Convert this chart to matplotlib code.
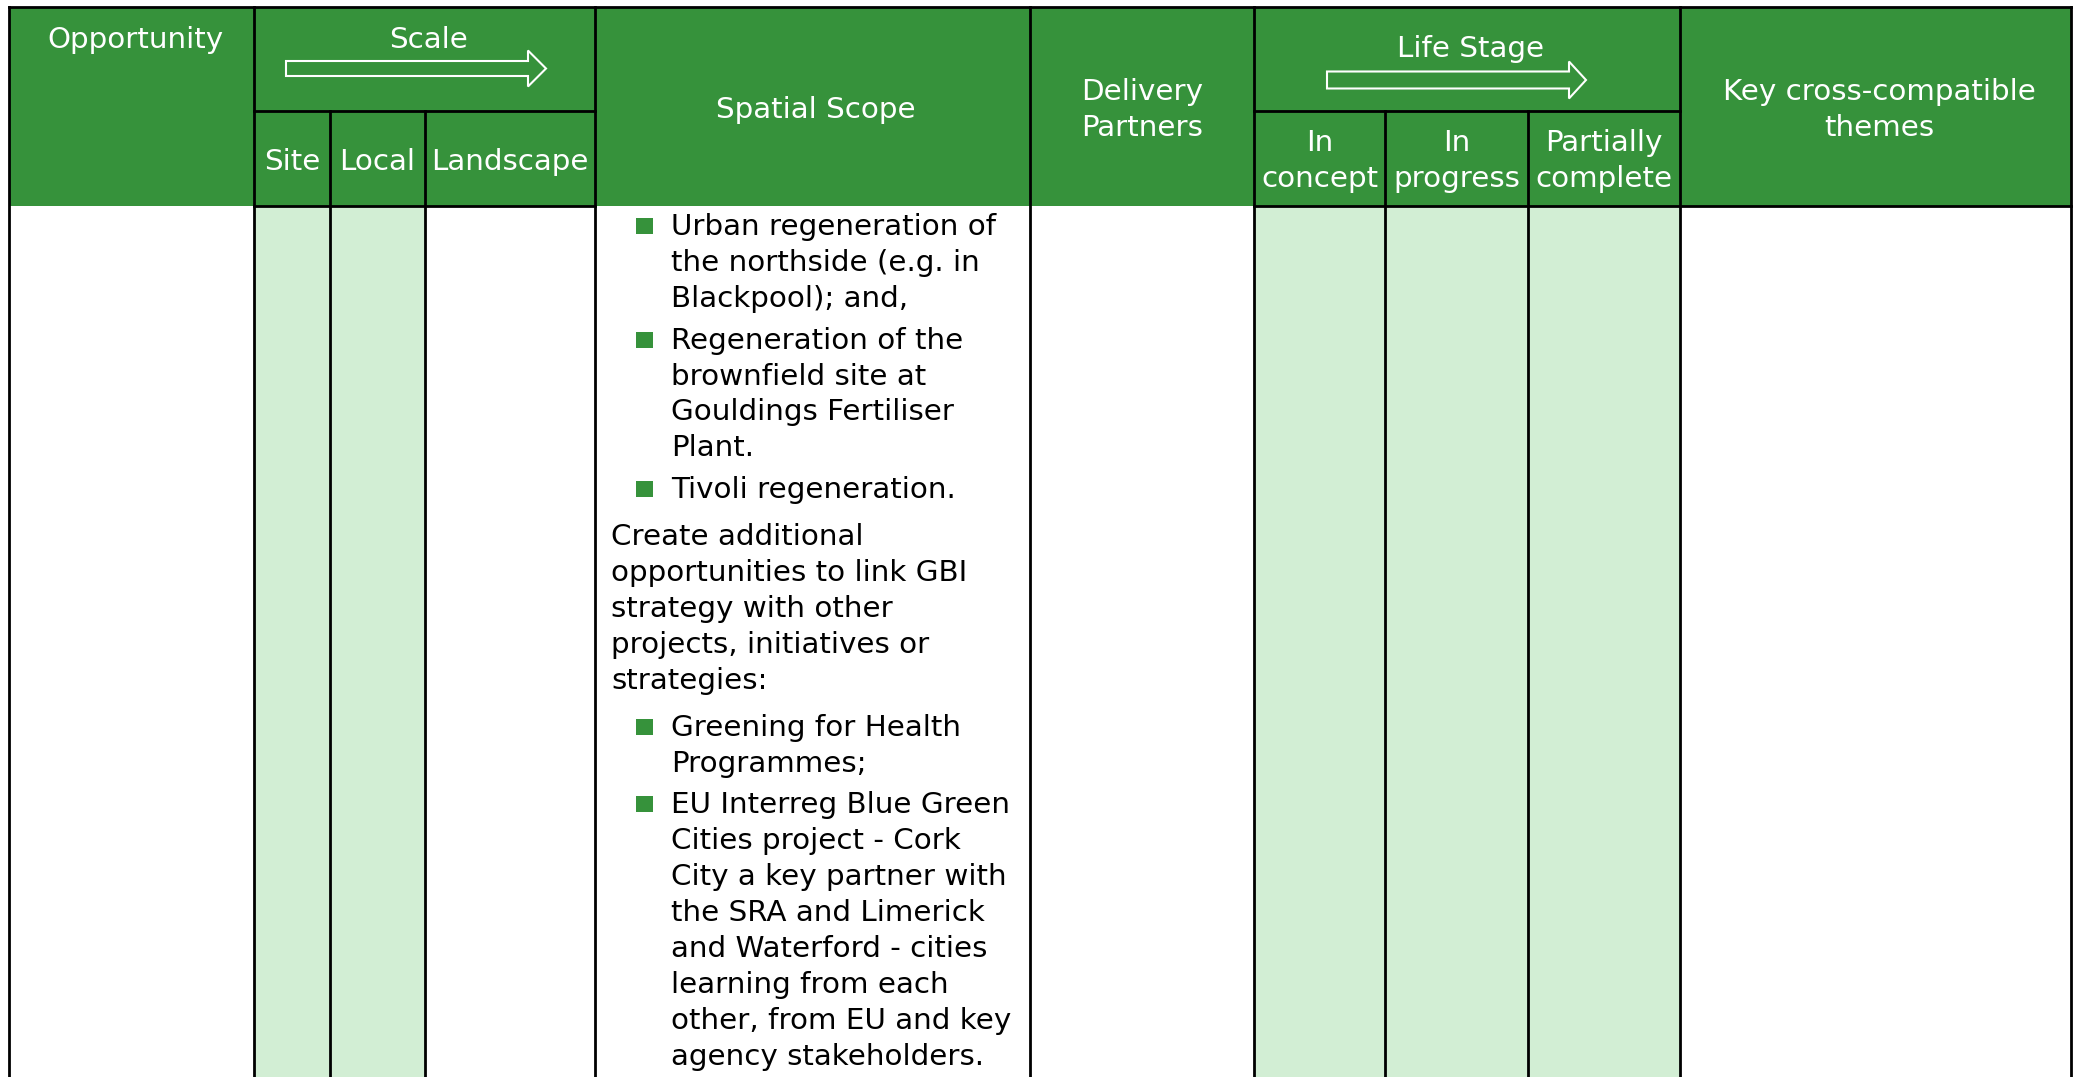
import matplotlib.pyplot as plt
from matplotlib.patches import Rectangle, Polygon

# header texts
top_headers = ['Opportunity', 'Scale', 'Spatial Scope', 'Delivery\nPartners', 'Life Stage',
               'Key cross-compatible\nthemes']
scale_subs = ['Site', 'Local', 'Landscape']
life_subs = ['In\nconcept', 'In\nprogress', 'Partially\ncomplete']

# spatial scope cell contents: (is_bullet, lines)
spatial_paras = [
    (True, ['Urban regeneration of', 'the northside (e.g. in', 'Blackpool); and,']),
    (True, ['Regeneration of the', 'brownfield site at', 'Gouldings Fertiliser', 'Plant.']),
    (True, ['Tivoli regeneration.']),
    (False, ['Create additional', 'opportunities to link GBI', 'strategy with other',
             'projects, initiatives or', 'strategies:']),
    (True, ['Greening for Health', 'Programmes;']),
    (True, ['EU Interreg Blue Green', 'Cities project - Cork', 'City a key partner with',
            'the SRA and Limerick', 'and Waterford - cities', 'learning from each',
            'other, from EU and key', 'agency stakeholders.']),
]

# which body columns are shaded (Opportunity, Site, Local, Landscape, Spatial, Delivery, concept, progress, partial, themes)
shaded = [False, True, True, False, False, False, True, True, True, False]

# layout (pixels)
W, H = 2078, 1077
edges = [9, 254, 330, 425, 595, 1030, 1254, 1385, 1528, 1680, 2071]
y_top, y_mid, y_head = 7, 111, 206
GREEN = '#36923b'
LIGHT = '#d2eed4'
FS = 21.2
LW = 2.0
LS = 1.37

fig = plt.figure(figsize=(W / 100, H / 100), dpi=100)
ax = fig.add_axes([0, 0, 1, 1])
ax.set_xlim(0, W)
ax.set_ylim(H, 0)
ax.axis('off')

# header background
ax.add_patch(Rectangle((edges[0], y_top), edges[-1] - edges[0], y_head - y_top, color=GREEN, lw=0))

# body shading
for i, sh in enumerate(shaded):
    if sh:
        ax.add_patch(Rectangle((edges[i], y_head), edges[i + 1] - edges[i], H - y_head,
                               color=LIGHT, lw=0))

# borders
ax.plot([edges[0], edges[-1]], [y_top, y_top], color='black', lw=LW, solid_capstyle='projecting')
for i, x in enumerate(edges):
    y0 = y_mid if i in (2, 3, 7, 8) else y_top
    ax.plot([x, x], [y0, H], color='black', lw=LW)
# middle header split over Scale and Life Stage
ax.plot([edges[1], edges[4]], [y_mid, y_mid], color='black', lw=LW)
ax.plot([edges[6], edges[9]], [y_mid, y_mid], color='black', lw=LW)
# header bottom line only under split groups and last column
ax.plot([edges[1], edges[4]], [y_head, y_head], color='black', lw=LW)
ax.plot([edges[6], edges[10]], [y_head, y_head], color='black', lw=LW)

txt = dict(color='white', fontsize=FS, family='DejaVu Sans', ha='center', va='center')

# top headers
ax.text((edges[0] + edges[1]) / 2 + 4, 40, top_headers[0], **txt)
ax.text((edges[1] + edges[4]) / 2 + 4, 40, top_headers[1], **txt)
ax.text((edges[4] + edges[5]) / 2 + 3, 110, top_headers[2], **txt)
ax.text((edges[5] + edges[6]) / 2, 110, top_headers[3], linespacing=LS, **txt)
ax.text((edges[6] + edges[9]) / 2 + 4, 49, top_headers[4], **txt)
ax.text((edges[9] + edges[10]) / 2 + 4, 110, top_headers[5], linespacing=LS, **txt)

# sub headers
for i, lab in enumerate(scale_subs):
    ax.text((edges[1 + i] + edges[2 + i]) / 2, 162, lab, **txt)
for i, lab in enumerate(life_subs):
    ax.text((edges[6 + i] + edges[7 + i]) / 2, 161, lab, linespacing=LS, **txt)


def arrow(x0, xb, xt, yc, shaft_h, head_h):
    pts = [(x0, yc - shaft_h / 2), (xb, yc - shaft_h / 2), (xb, yc - head_h / 2), (xt, yc),
           (xb, yc + head_h / 2), (xb, yc + shaft_h / 2), (x0, yc + shaft_h / 2)]
    ax.add_patch(Polygon(pts, closed=True, facecolor='none', edgecolor='white', lw=1.5, zorder=3))


arrow(286, 528, 546, 68.5, 15, 36)
arrow(1327, 1569, 1586, 80, 17, 37)

# spatial scope body text
y = 227
step = 35.9
bullet_x, text_x, plain_x = 644, 671, 611
prev_bullet = None
for k, (is_bullet, lines) in enumerate(spatial_paras):
    if k > 0:
        y += step + (6 if (is_bullet and prev_bullet) else 11)
    if is_bullet:
        ax.add_patch(Rectangle((bullet_x - 8.5, y - 9), 17, 16, color=GREEN, lw=0))
    for j, line in enumerate(lines):
        if j > 0:
            y += step
        ax.text(text_x if is_bullet else plain_x, y, line, color='black', fontsize=FS,
                family='DejaVu Sans', ha='left', va='center')
    prev_bullet = is_bullet

fig.savefig('out.png', dpi=100)
